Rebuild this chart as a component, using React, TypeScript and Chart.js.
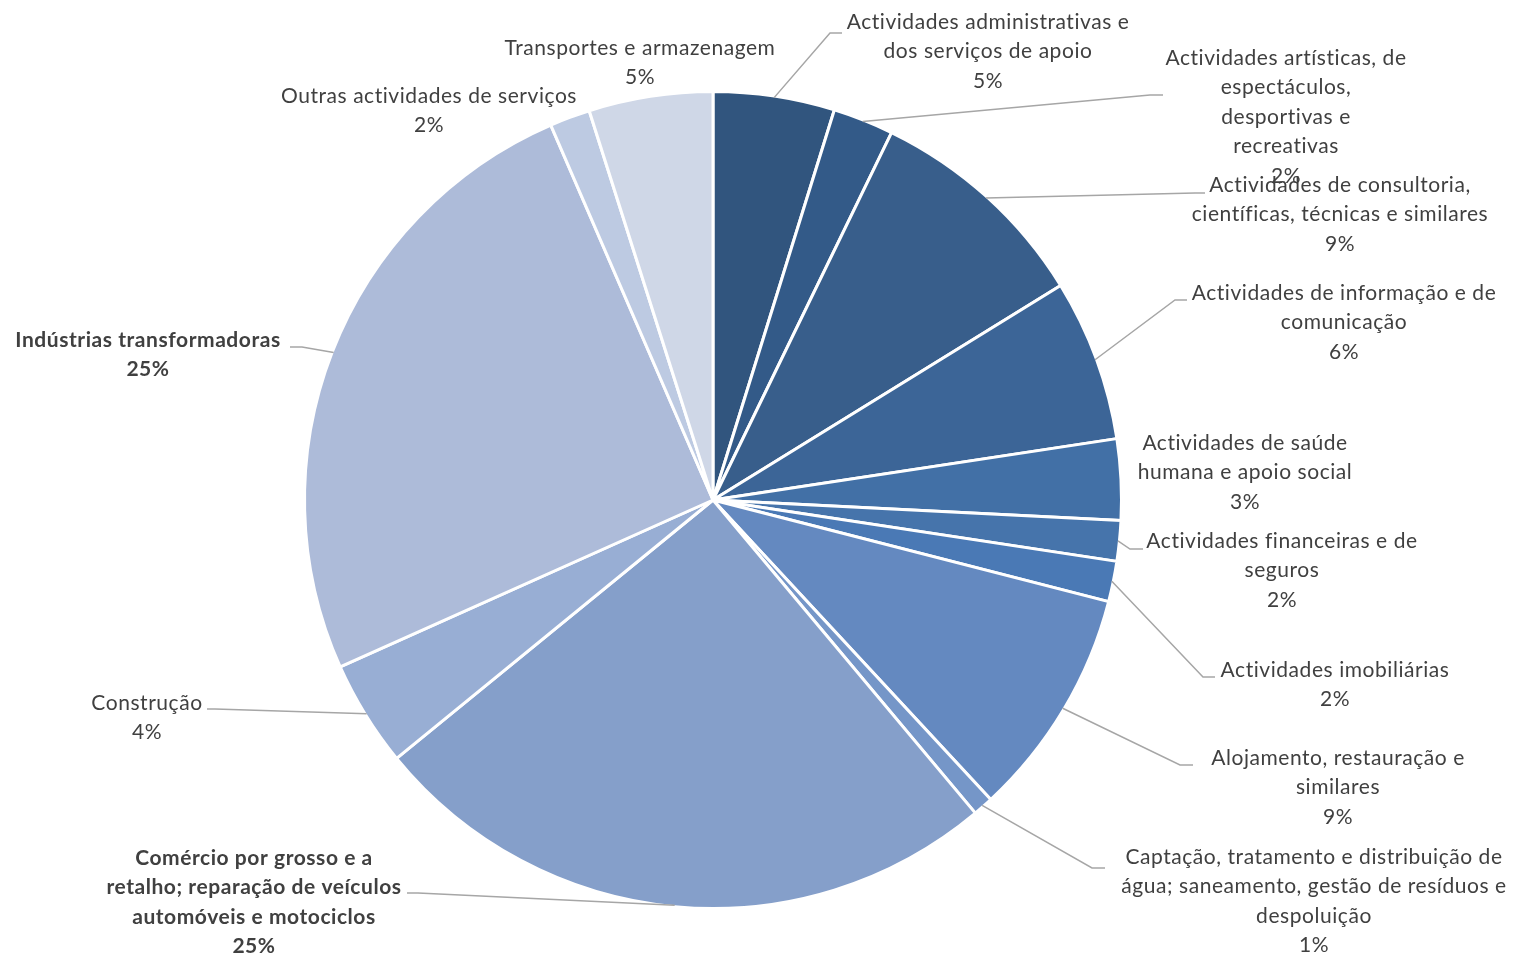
import React, { useEffect, useRef } from "react";
import { Chart, registerables } from "chart.js";

Chart.register(...registerables);

// ---- data ----
const categories: string[] = [
  "Actividades administrativas e\ndos serviços de apoio",
  "Actividades artísticas, de\nespectáculos,\ndesportivas e\nrecreativas",
  "Actividades de consultoria,\ncientíficas, técnicas e similares",
  "Actividades de informação e de\ncomunicação",
  "Actividades de saúde\nhumana e apoio social",
  "Actividades financeiras e de\nseguros",
  "Actividades imobiliárias",
  "Alojamento, restauração e\nsimilares",
  "Captação, tratamento e distribuição de\nágua; saneamento, gestão de resíduos e\ndespoluição",
  "Comércio por grosso e a\nretalho; reparação de veículos\nautomóveis e motociclos",
  "Construção",
  "Indústrias transformadoras",
  "Outras actividades de serviços",
  "Transportes e armazenagem",
];
const shares: number[] = [4.8, 2.4, 9.0, 6.4, 3.2, 1.6, 1.6, 9.1, 0.8, 25.2, 4.2, 25.2, 1.6, 4.9];
const boldLabels: boolean[] = [false, false, false, false, false, false, false, false, false, true, false, true, false, false];

// ---- styles / layout ----
const sliceColors: string[] = [
  "#31557E", "#335A88", "#385E8B", "#3C6597", "#4270A6", "#4674AB", "#4A79B5",
  "#6489C0", "#7596C8", "#859FCA", "#98AED4", "#ADBBD9", "#BDCAE2", "#CFD7E7",
];
type LabelLayout = { cx: number; cy: number; elbow?: [number, number]; end?: [number, number] };
const labelLayout: LabelLayout[] = [
  { cx: 988, cy: 22, elbow: [830, 33], end: [842, 33] },
  { cx: 1286, cy: 58, elbow: [1150, 95], end: [1163, 95] },
  { cx: 1340, cy: 185, elbow: [1195, 193], end: [1205, 193] },
  { cx: 1344, cy: 293, elbow: [1175, 300], end: [1187, 300] },
  { cx: 1245, cy: 443 },
  { cx: 1282, cy: 541, elbow: [1130, 549], end: [1143, 549] },
  { cx: 1335, cy: 670, elbow: [1203, 677], end: [1215, 677] },
  { cx: 1338, cy: 758, elbow: [1180, 765], end: [1193, 765] },
  { cx: 1314, cy: 857, elbow: [1092, 868], end: [1105, 868] },
  { cx: 254, cy: 858, elbow: [418, 893], end: [407, 893] },
  { cx: 147, cy: 703, elbow: [215, 709], end: [207, 709] },
  { cx: 148, cy: 340, elbow: [302, 347], end: [290, 347] },
  { cx: 429, cy: 96 },
  { cx: 640, cy: 48 },
];
const FONT_FAMILY = "Lato, 'Noto Sans', sans-serif";
const FONT_SIZE = 21;
const LETTER_SPACING = "0.55px";
const LINE_HEIGHT = 29.5;
const TEXT_COLOR = "#404040";
const LEADER_COLOR = "#A6A6A6";

const labelPlugin = {
  id: "outsideLabels",
  afterDatasetsDraw(chart: any) {
    const ctx: CanvasRenderingContext2D = chart.ctx;
    const meta = chart.getDatasetMeta(0);
    const data: number[] = chart.data.datasets[0].data;
    const total = data.reduce((a, b) => a + b, 0);
    ctx.save();
    meta.data.forEach((arc: any, i: number) => {
      const lay = labelLayout[i];
      const { x, y, startAngle, endAngle, outerRadius } = arc.getProps(
        ["x", "y", "startAngle", "endAngle", "outerRadius"], true
      );
      const mid = (startAngle + endAngle) / 2;
      const r = outerRadius - 1.5;
      if (lay.elbow && lay.end) {
        ctx.beginPath();
        ctx.strokeStyle = LEADER_COLOR;
        ctx.lineWidth = 1.5;
        ctx.moveTo(x + Math.cos(mid) * r, y + Math.sin(mid) * r);
        ctx.lineTo(lay.elbow[0], lay.elbow[1]);
        ctx.lineTo(lay.end[0], lay.end[1]);
        ctx.stroke();
      }
      const lines = categories[i].split("\n");
      lines.push(Math.round((data[i] / total) * 100) + "%");
      ctx.fillStyle = TEXT_COLOR;
      ctx.font = `${boldLabels[i] ? "bold " : ""}${FONT_SIZE}px ${FONT_FAMILY}`;
      (ctx as any).letterSpacing = LETTER_SPACING;
      ctx.textAlign = "center";
      ctx.textBaseline = "middle";
      lines.forEach((ln, k) => {
        ctx.fillText(ln, lay.cx, lay.cy + k * LINE_HEIGHT);
      });
    });
    ctx.restore();
  },
};

export default function App() {
  const ref = useRef<HTMLCanvasElement | null>(null);
  useEffect(() => {
    if (!ref.current) return;
    const chart = new Chart(ref.current, {
      type: "pie",
      data: {
        labels: categories.map((c) => c.replace(/\n/g, " ")),
        datasets: [
          {
            data: shares,
            backgroundColor: sliceColors,
            borderColor: "#FFFFFF",
            borderWidth: 3,
          },
        ],
      },
      options: {
        responsive: false,
        animation: false,
        radius: 408.5,
        layout: { padding: { left: 306, right: 395, top: 93, bottom: 48 } },
        plugins: {
          legend: { display: false },
          tooltip: { enabled: false },
          title: { display: false },
        },
      } as any,
      plugins: [labelPlugin],
    });
    return () => chart.destroy();
  }, []);
  return (
    <div style={{ position: "fixed", left: 0, top: 0, width: 1515, height: 955, background: "#FFFFFF" }}>
      <canvas ref={ref} width={1515} height={955} style={{ width: 1515, height: 955, display: "block" }} />
    </div>
  );
}
